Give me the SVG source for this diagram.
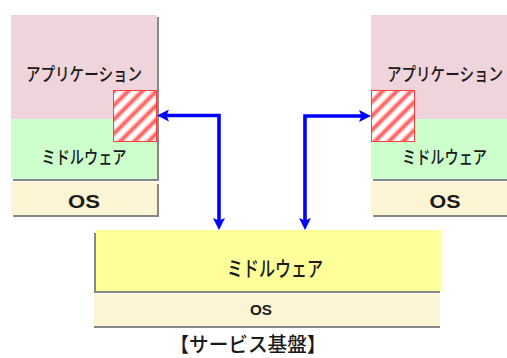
<svg xmlns="http://www.w3.org/2000/svg" width="507" height="358" viewBox="0 0 507 358">
  <style>
    .t { font-family: "Noto Sans CJK JP", "Noto Sans", sans-serif; font-weight: 500; fill: #1a1a1a; text-anchor: middle; }
    .os { font-family: "Liberation Sans", Arial, sans-serif; font-weight: bold; fill: #1a1a1a; text-anchor: middle; }
    .shadow { fill: #888888; }
    .app { fill: #f0d4dc; }
    .mw { fill: #ccffcc; }
    .osbox { fill: #fbf5d3; }
    .mwb { fill: #ffff99; }
    .hatch { fill: url(#stripes); stroke: #ff3b3b; stroke-width: 1; }
    .conn { fill: none; stroke: #0000ff; stroke-width: 3.6; marker-start: url(#ah); marker-end: url(#ah); }
  </style>
  <defs>
    <linearGradient id="sg" x1="0" y1="0" x2="1" y2="0">
      <stop offset="0" stop-color="#ffffff"/>
      <stop offset="0.15" stop-color="#ffffff"/>
      <stop offset="0.5" stop-color="#ff4545"/>
      <stop offset="0.85" stop-color="#ffffff"/>
      <stop offset="1" stop-color="#ffffff"/>
    </linearGradient>
    <pattern id="stripes" patternUnits="userSpaceOnUse" width="10" height="10" patternTransform="rotate(45)">
      <rect x="0" y="0" width="10" height="10" fill="url(#sg)"/>
    </pattern>
    <marker id="ah" markerUnits="userSpaceOnUse" viewBox="0 0 12 12" markerWidth="12" markerHeight="12" refX="4" refY="6" orient="auto-start-reverse">
      <path d="M0,0 L12,6 L0,12 L2.5,6 z" fill="#0000ff"/>
    </marker>
  </defs>

  <g id="left-stack">
    <rect class="shadow" x="13" y="17" width="146" height="164"/>
    <rect class="app" x="11" y="15" width="146" height="104"/>
    <rect class="mw" x="11" y="119" width="146" height="60"/>
    <text class="t" x="84" y="81" font-size="18" textLength="116" lengthAdjust="spacingAndGlyphs">アプリケーション</text>
    <text class="t" x="84" y="164" font-size="18" textLength="85" lengthAdjust="spacingAndGlyphs">ミドルウェア</text>
  </g>
  <g id="left-hatch">
    <rect class="hatch" x="113.5" y="90.5" width="43" height="51"/>
  </g>
  <g id="left-os">
    <rect class="shadow" x="13" y="184" width="146" height="33"/>
    <rect class="osbox" x="11" y="182" width="146" height="33"/>
    <text class="os" x="84" y="208" font-size="18" textLength="32" lengthAdjust="spacingAndGlyphs">OS</text>
  </g>

  <g id="right-stack">
    <rect class="shadow" x="373" y="17" width="134" height="164"/>
    <rect class="app" x="371" y="15" width="136" height="104"/>
    <rect class="mw" x="371" y="119" width="136" height="60"/>
    <text class="t" x="445" y="81" font-size="18" textLength="116" lengthAdjust="spacingAndGlyphs">アプリケーション</text>
    <text class="t" x="444.5" y="164" font-size="18" textLength="85" lengthAdjust="spacingAndGlyphs">ミドルウェア</text>
  </g>
  <g id="right-hatch">
    <rect class="hatch" x="371.5" y="90.5" width="43" height="51"/>
  </g>
  <g id="right-os">
    <rect class="shadow" x="373" y="184" width="134" height="33"/>
    <rect class="osbox" x="371" y="182" width="136" height="33"/>
    <text class="os" x="445" y="208" font-size="18" textLength="31" lengthAdjust="spacingAndGlyphs">OS</text>
  </g>

  <g id="service-middleware">
    <rect class="shadow" x="94" y="233" width="346" height="60"/>
    <rect class="mwb" x="96" y="230" width="345" height="61"/>
    <text class="t" x="275" y="276" font-size="21" textLength="96" lengthAdjust="spacingAndGlyphs">ミドルウェア</text>
  </g>
  <g id="service-os">
    <rect class="shadow" x="94" y="296" width="346" height="32"/>
    <rect class="osbox" x="94" y="294" width="346" height="32"/>
    <text class="os" x="261" y="315" font-size="14" textLength="22" lengthAdjust="spacingAndGlyphs">OS</text>
  </g>
  <g id="caption">
    <text class="t" x="248" y="352" font-size="20" font-weight="bold" textLength="157" lengthAdjust="spacingAndGlyphs">【サービス基盤】</text>
  </g>

  <g id="connectors">
    <path class="conn" d="M165,115.5 H219 V222"/>
    <path class="conn" d="M363,116 H305 V222"/>
  </g>
</svg>
